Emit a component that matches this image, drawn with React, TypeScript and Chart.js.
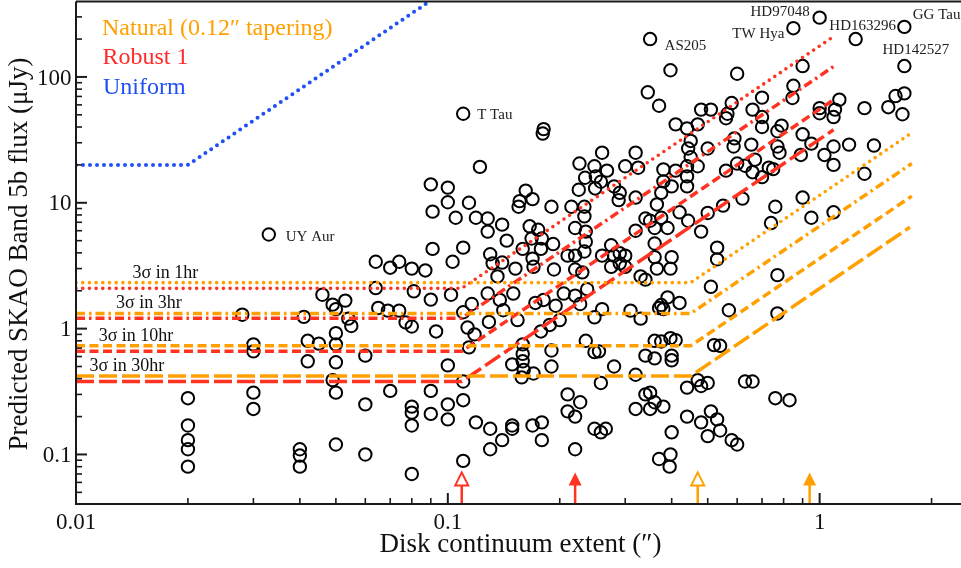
import React, { useEffect, useRef } from 'react';
import { Chart, registerables } from 'chart.js';

Chart.register(...registerables);

// ---------- axis ranges & ticks ----------
const X_RANGE = [0.01, 2.4];
const Y_RANGE = [0.0404, 394];
const xTickValues = [0.01, 0.1, 1];
const xTickLabels = ['0.01', '0.1', '1'];
const yTickValues = [0.1, 1, 10, 100];
const yTickLabels = ['0.1', '1', '10', '100'];

// ---------- disks (extent in arcsec, flux in uJy) ----------
const diskExtent = [
  0.02, 0.02, 0.02, 0.02, 0.02,
  0.028, 0.03, 0.03, 0.03, 0.03,
  0.04, 0.04, 0.04, 0.041, 0.042, 0.042, 0.045,
  0.046, 0.049, 0.05, 0.053, 0.054, 0.055,
  0.05, 0.05, 0.05, 0.049, 0.05, 0.05,
  0.06, 0.06, 0.06,
  0.064, 0.064, 0.065, 0.069, 0.07, 0.07,
  0.074, 0.074, 0.077, 0.08, 0.08, 0.081,
  0.08, 0.08, 0.08, 0.08,
  0.087, 0.09, 0.091, 0.091, 0.09, 0.093, 0.09, 0.09,
  0.1, 0.1, 0.102, 0.1, 0.1, 0.1, 0.103, 0.105,
  // 0.1 - 0.2
  0.114, 0.119, 0.11, 0.11, 0.113, 0.118, 0.114, 0.116,
  0.11, 0.11, 0.11, 0.119, 0.122,
  0.128, 0.128, 0.14, 0.144, 0.162, 0.156, 0.169, 0.155, 0.19,
  0.166, 0.175, 0.168, 0.179, 0.192, 0.159, 0.178, 0.169,
  0.152, 0.17, 0.193, 0.13, 0.132, 0.14, 0.136,
  0.128, 0.15, 0.138, 0.141, 0.154, 0.129, 0.172, 0.181, 0.178, 0.188,
  0.181, 0.18,
  0.159, 0.159, 0.159, 0.149, 0.17, 0.16, 0.158, 0.19, 0.19,
  0.13, 0.14, 0.13, 0.149, 0.149, 0.169, 0.179, 0.179,
  // 0.2 - 0.45 low
  0.195, 0.205, 0.22, 0.227, 0.237, 0.2, 0.248, 0.26,
  0.235, 0.248, 0.255, 0.28, 0.258,
  0.21, 0.227, 0.21, 0.22, 0.22, 0.248, 0.258, 0.266,
  0.31, 0.33, 0.37, 0.38, 0.39, 0.42, 0.375,
  0.36, 0.375, 0.397, 0.41, 0.34, 0.36, 0.4, 0.4,
  0.32, 0.44, 0.34, 0.35, 0.36, 0.32, 0.35, 0.38, 0.44, 0.4, 0.397, 0.37, 0.395,
  0.33, 0.34, 0.21, 0.22, 0.233, 0.22, 0.23, 0.26, 0.275, 0.29, 0.3, 0.275, 0.3, 0.36, 0.4, 0.397, 0.365, 0.29, 0.28,
  // 0.2 - 0.45 high
  0.397, 0.345, 0.37, 0.41, 0.44, 0.45, 0.443, 0.45, 0.44,
  0.41, 0.38, 0.44, 0.44, 0.4, 0.38, 0.375, 0.365, 0.42, 0.443,
  0.34, 0.35, 0.36, 0.39, 0.32, 0.36,
  0.26, 0.32, 0.3, 0.325, 0.226, 0.248, 0.268, 0.234, 0.25, 0.258, 0.249, 0.225, 0.28, 0.29, 0.288, 0.32,
  0.215, 0.233, 0.233, 0.22, 0.235, 0.235,
  0.375,
  // > 0.45
  0.47, 0.5, 0.47, 0.48, 0.51, 0.58, 0.56, 0.565, 0.6, 0.66,
  0.59, 0.587, 0.655, 0.6, 0.63, 0.56, 0.66, 0.62, 0.55, 0.5,
  0.48, 0.53, 0.53, 0.51, 0.57,
  0.52, 0.54, 0.47, 0.48, 0.5, 0.63, 0.66, 0.77, 0.76, 0.83,
  0.48, 0.51, 0.53, 0.54, 0.5, 0.58, 0.6,
  0.9, 0.85, 0.845, 0.7, 0.7, 0.7, 0.79, 0.77, 0.9, 0.95, 0.77, 0.78, 0.89,
  1.09, 1.03, 1.09, 1.2, 1.4, 1.32, 1.0, 1.0, 1.09, 1.1, 1.13, 1.32, 1.53, 1.6, 1.69, 1.67,
  0.67, 0.73, 0.75, 0.7, 0.76, 0.9, 0.95, 1.09, 0.74, 0.77,
];
const bandFlux = [
  0.28, 0.17, 0.13, 0.11, 0.08,
  1.29, 0.75, 0.66, 0.31, 0.23,
  0.11, 0.098, 0.08, 1.24, 0.8, 0.55, 0.76,
  1.86, 1.55, 1.43, 1.67, 1.2, 1.05,
  0.92, 0.75, 0.54, 0.39, 0.31, 0.12,
  0.61, 0.25, 0.1,
  3.4, 2.1, 1.46, 1.39, 3.05, 0.32,
  3.4, 1.39, 1.12, 1.04, 3.0, 1.98,
  0.24, 0.215, 0.17, 0.07,
  2.9, 14, 8.5, 4.3, 1.7, 0.95, 0.32, 0.21,
  13.2, 10.1, 1.86, 0.51, 0.25, 0.19, 3.4, 7.6,
  // 0.1 - 0.2
  10, 7.6, 4.4, 1.35, 1.02, 0.9, 0.71, 1.57,
  0.38, 0.27, 0.089, 0.18, 19.3,
  7.5, 5.9, 6.7, 5.0, 12.5, 10.3, 10.7, 9.3, 9.3,
  6.5, 6.1, 5.2, 5.2, 4.7, 4.3, 4.3, 3.6,
  3.0, 3.1, 2.95, 3.9, 3.3, 3.35, 2.6,
  1.9, 1.9, 1.69, 1.4, 1.17, 1.13, 1.6, 1.69, 0.95, 1.07,
  38.5, 35.5,
  0.75, 0.63, 0.55, 0.52, 0.44, 0.47, 0.41, 0.67, 0.5,
  0.16, 0.13, 0.11, 0.17, 0.16, 0.17, 0.18, 0.13,
  // 0.2 - 0.45 low
  1.52, 1.9, 1.83, 1.57, 2.06, 1.17, 1.23, 1.43,
  0.8, 0.65, 0.66, 0.5, 0.37,
  0.3, 0.26, 0.22, 0.2, 0.11, 0.16, 0.15, 0.16,
  1.39, 1.2, 1.46, 1.43, 1.77, 1.6, 1.54,
  0.8, 0.79, 0.84, 0.81, 0.61, 0.58, 0.61, 0.56,
  0.43, 0.34, 0.3, 0.31, 0.26, 0.23, 0.23, 0.24, 0.2, 0.15, 0.1, 0.092, 0.08,
  2.6, 2.45, 3.8, 3.8, 4.1, 2.95, 2.8, 3.8, 3.1, 3.97, 3.1, 4.6, 3.8, 3.7, 3.7, 3.0, 3.0, 3.3, 3.8,
  // 0.2 - 0.45 high
  113, 75.5, 59, 42, 39, 31, 27, 23, 19.5,
  18, 18.4, 16.2, 13.5, 13.5, 14.8, 12, 9.7, 8.4, 7.2,
  7.5, 7.2, 6.3, 6.3, 6.0, 4.75,
  25, 25, 19.5, 19, 20.5, 19.5, 18, 15.8, 16.2, 14.7, 13, 12.7, 13.5, 12, 10.5, 11,
  9.3, 9.3, 7.8, 6.3, 5.9, 4.9,
  7.6,
  // > 0.45
  19.5, 27, 42, 55, 55, 62, 47, 51, 106, 55,
  32.5, 28, 29, 20.5, 19.7, 18, 17.5, 10.8, 9.5, 8.3,
  5.9, 4.4, 3.55, 2.15, 1.4,
  0.74, 0.73, 0.39, 0.35, 0.37, 0.38, 0.38, 1.32, 0.28, 0.27,
  0.18, 0.22, 0.19, 0.155, 0.14, 0.13, 0.12,
  122, 85, 68, 68.5, 48, 40, 41, 37, 35, 29.5, 28, 25, 24,
  28, 24, 20, 29, 28.5, 17, 56.5, 51.5, 48, 55, 66, 56.5, 57.5, 70.5, 74, 50.5,
  22, 19, 18.5, 16, 9.3, 11, 7.6, 8.4, 6.9, 2.66,
];

// ---------- named disks ----------
const namedSources = ['UY Aur', 'T Tau', 'AS205', 'TW Hya', 'HD97048', 'HD163296', 'GG Tau', 'HD142527'];
const namedExtent = [0.033, 0.11, 0.35, 0.85, 1.0, 1.25, 1.69, 1.69];
const namedFlux = [5.6, 51, 200, 244, 296, 200, 250, 122];

// ---------- sensitivity curves ----------
const integrationTimes = ['1hr', '3hr', '10hr', '30hr'];
const robustFloor = [2.09, 1.21, 0.66, 0.38];
const robustBreak = 0.109;
const robustEndExtent = [1.1, 1.09, 1.1, 1.09];
const robustEndFlux = [213, 121, 67, 38];
const naturalFloor = [2.32, 1.32, 0.73, 0.42];
const naturalBreak = 0.45;
const naturalEndExtent = [1.77, 1.77, 1.77, 1.75];
const naturalEndFlux = [36, 20.5, 11.3, 6.4];
const uniformExtent = [0.01, 0.02, 0.1];
const uniformFlux = [20, 20, 500];

// resolution markers (arrows on the x axis)
const markerExtent = [0.109, 0.22, 0.47, 0.94];
// x position of the "3σ in ..." labels
const sigmaLabelExtent = [0.0174, 0.0157, 0.0145, 0.0137];

// ---------- styles ----------
const ORANGE = '#ffa000';
const RED = '#ff3322';
const RED_TEXT = '#ff2a2a';
const BLUE = '#1f50f5';
const INK = '#111111';
const SERIF = '"Liberation Serif", "DejaVu Serif", serif';

const lineStyles = [
  { dash: [0, 6.7], cap: 'round', width: 3.6 },
  { dash: [9, 4, 2.5, 4], cap: 'butt', width: 3.5 },
  { dash: [9, 4.5], cap: 'butt', width: 3.5 },
  { dash: [18, 5], cap: 'butt', width: 3.5 },
];

const markerStyle = [
  { color: RED, filled: false },
  { color: RED, filled: true },
  { color: ORANGE, filled: false },
  { color: ORANGE, filled: true },
];

const namedLabelStyle: Record<string, { dx: number; dy: number; align: CanvasTextAlign }> = {
  'UY Aur': { dx: 17, dy: 6.5, align: 'left' },
  'T Tau': { dx: 14, dy: 5.5, align: 'left' },
  AS205: { dx: 14.5, dy: 11.4, align: 'left' },
  'TW Hya': { dx: -9, dy: 9.7, align: 'right' },
  HD97048: { dx: -10, dy: -1.7, align: 'right' },
  HD163296: { dx: 7, dy: -8.6, align: 'center' },
  'GG Tau': { dx: 8.4, dy: -8, align: 'left' },
  HD142527: { dx: 11.5, dy: -12, align: 'center' },
};

function curve(floor: number, brk: number, endX: number, endY: number) {
  return [
    { x: X_RANGE[0], y: floor },
    { x: brk, y: floor },
    { x: endX, y: endY },
  ];
}

const overlayPlugin = {
  id: 'overlay',
  afterDatasetsDraw(chart: any) {
    const { ctx, chartArea: a, scales } = chart;
    const xs = scales.x;
    const ys = scales.y;
    ctx.save();

    // arrows marking resolutions
    markerExtent.forEach((v, i) => {
      const st = markerStyle[i];
      const px = xs.getPixelForValue(v);
      const tip = ys.getPixelForValue(0.072);
      const headBase = tip + 13;
      ctx.strokeStyle = st.color;
      ctx.fillStyle = st.color;
      ctx.lineWidth = 2.5;
      ctx.beginPath();
      ctx.moveTo(px, headBase - 1);
      ctx.lineTo(px, a.bottom);
      ctx.stroke();
      ctx.beginPath();
      ctx.moveTo(px, tip);
      ctx.lineTo(px - 6.5, headBase);
      ctx.lineTo(px + 6.5, headBase);
      ctx.closePath();
      if (st.filled) {
        ctx.fill();
      } else {
        ctx.fillStyle = '#ffffff';
        ctx.fill();
        ctx.lineWidth = 2;
        ctx.lineJoin = 'miter';
        ctx.stroke();
      }
    });

    // frame
    ctx.strokeStyle = '#1a1a1a';
    ctx.lineWidth = 2;
    ctx.beginPath();
    ctx.moveTo(a.left, a.top - 0.5);
    ctx.lineTo(a.left, a.bottom);
    ctx.lineTo(a.right, a.bottom);
    ctx.stroke();
    ctx.beginPath();
    ctx.moveTo(a.left, a.top - 0.5);
    ctx.lineTo(a.right, a.top - 0.5);
    ctx.stroke();

    // inward ticks
    for (let d = -2; d <= 0; d++) {
      for (let k = 1; k <= 9; k++) {
        const v = k * Math.pow(10, d);
        if (v < X_RANGE[0] || v > X_RANGE[1]) continue;
        const px = xs.getPixelForValue(v);
        const len = k === 1 ? 11 : 6;
        ctx.lineWidth = k === 1 ? 2 : 1.6;
        ctx.beginPath();
        ctx.moveTo(px, a.bottom);
        ctx.lineTo(px, a.bottom - len);
        ctx.stroke();
      }
    }
    for (let d = -2; d <= 2; d++) {
      for (let k = 1; k <= 9; k++) {
        const v = k * Math.pow(10, d);
        if (v < Y_RANGE[0] || v > Y_RANGE[1]) continue;
        const py = ys.getPixelForValue(v);
        const len = k === 1 ? 11 : 6;
        ctx.lineWidth = k === 1 ? 2 : 1.6;
        ctx.beginPath();
        ctx.moveTo(a.left, py);
        ctx.lineTo(a.left + len, py);
        ctx.stroke();
      }
    }

    // tick labels
    ctx.fillStyle = INK;
    ctx.font = `23px ${SERIF}`;
    ctx.textBaseline = 'alphabetic';
    ctx.textAlign = 'center';
    xTickValues.forEach((v, i) => {
      ctx.fillText(xTickLabels[i], xs.getPixelForValue(v), a.bottom + 24.5);
    });
    ctx.textAlign = 'right';
    yTickValues.forEach((v, i) => {
      ctx.fillText(yTickLabels[i], a.left - 4.5, ys.getPixelForValue(v) + 7.6);
    });

    // axis titles
    ctx.font = `27px ${SERIF}`;
    ctx.textAlign = 'center';
    ctx.fillText('Disk continuum extent (\u2033)', (a.left + a.right) / 2 + 2, a.bottom + 48);
    ctx.save();
    ctx.translate(27, (a.top + a.bottom) / 2 + 1);
    ctx.rotate(-Math.PI / 2);
    ctx.fillText('Predicted SKAO Band 5b flux (\u03bcJy)', 0, 0);
    ctx.restore();

    // legend texts
    ctx.font = `24px ${SERIF}`;
    ctx.textAlign = 'left';
    ctx.fillStyle = ORANGE;
    ctx.fillText('Natural (0.12\u2033 tapering)', a.left + 26, a.top + 33);
    ctx.fillStyle = RED_TEXT;
    ctx.fillText('Robust 1', a.left + 26.5, a.top + 61.5);
    ctx.fillStyle = BLUE;
    ctx.fillText('Uniform', a.left + 27, a.top + 91.5);

    // 3σ labels
    ctx.fillStyle = INK;
    ctx.font = `18px ${SERIF}`;
    ctx.textAlign = 'center';
    integrationTimes.forEach((t, i) => {
      const px = xs.getPixelForValue(sigmaLabelExtent[i]);
      const py = ys.getPixelForValue(naturalFloor[i]) - 5;
      ctx.fillText(`3\u03c3 in ${t}`, px, py);
    });

    // source names
    ctx.font = `15px ${SERIF}`;
    ctx.fillStyle = '#222222';
    namedSources.forEach((name, i) => {
      const st = namedLabelStyle[name];
      const px = xs.getPixelForValue(namedExtent[i]);
      const py = ys.getPixelForValue(namedFlux[i]);
      ctx.textAlign = st.align;
      ctx.fillText(name, px + st.dx, py + st.dy);
    });

    ctx.restore();
  },
};

export default function App() {
  const canvasRef = useRef<HTMLCanvasElement | null>(null);

  useEffect(() => {
    const canvas = canvasRef.current;
    if (!canvas) return;

    const lineSets: any[] = [];
    integrationTimes.forEach((t, i) => {
      const st = lineStyles[i];
      lineSets.push({
        label: `Natural ${t}`,
        data: curve(naturalFloor[i], naturalBreak, naturalEndExtent[i], naturalEndFlux[i]),
        showLine: true,
        borderColor: ORANGE,
        borderWidth: st.width,
        borderDash: st.dash,
        borderCapStyle: st.cap,
        borderJoinStyle: 'round',
        pointRadius: 0,
        fill: false,
        tension: 0,
      });
    });
    integrationTimes.forEach((t, i) => {
      const st = lineStyles[i];
      lineSets.push({
        label: `Robust ${t}`,
        data: curve(robustFloor[i], robustBreak, robustEndExtent[i], robustEndFlux[i]),
        showLine: true,
        borderColor: RED,
        borderWidth: st.width,
        borderDash: st.dash,
        borderCapStyle: st.cap,
        borderJoinStyle: 'round',
        pointRadius: 0,
        fill: false,
        tension: 0,
      });
    });
    lineSets.push({
      label: 'Uniform',
      data: uniformExtent.map((x, i) => ({ x, y: uniformFlux[i] })),
      showLine: true,
      borderColor: BLUE,
      borderWidth: 4,
      borderDash: [0, 7],
      borderCapStyle: 'round',
      pointRadius: 0,
      fill: false,
      tension: 0,
    });

    const points = diskExtent.map((x, i) => ({ x, y: bandFlux[i] }))
      .concat(namedExtent.map((x, i) => ({ x, y: namedFlux[i] })));

    const chart = new Chart(canvas, {
      type: 'scatter',
      data: {
        datasets: [
          ...lineSets,
          {
            label: 'Disks',
            data: points,
            pointStyle: 'circle',
            pointRadius: 6.2,
            pointBorderWidth: 2,
            pointBorderColor: '#000000',
            pointBackgroundColor: 'rgba(0,0,0,0)',
            showLine: false,
          },
        ],
      },
      options: {
        animation: false,
        responsive: false,
        devicePixelRatio: 1,
        events: [],
        layout: { autoPadding: false, padding: { top: 2, right: 0, bottom: 0, left: 0 } },
        plugins: { legend: { display: false }, tooltip: { enabled: false } },
        scales: {
          x: {
            type: 'logarithmic',
            min: X_RANGE[0],
            max: X_RANGE[1],
            grid: { display: false },
            border: { display: false },
            ticks: { display: false },
            afterFit: (s: any) => { s.height = 64; },
          },
          y: {
            type: 'logarithmic',
            min: Y_RANGE[0],
            max: Y_RANGE[1],
            grid: { display: false },
            border: { display: false },
            ticks: { display: false },
            afterFit: (s: any) => { s.width = 76; },
          },
        },
      },
      plugins: [overlayPlugin],
    } as any);

    return () => chart.destroy();
  }, []);

  return (
    <div style={{ position: 'fixed', left: 0, top: 0, width: 961, height: 568, background: '#ffffff' }}>
      <canvas ref={canvasRef} width={961} height={568} style={{ width: 961, height: 568, display: 'block' }} />
    </div>
  );
}
